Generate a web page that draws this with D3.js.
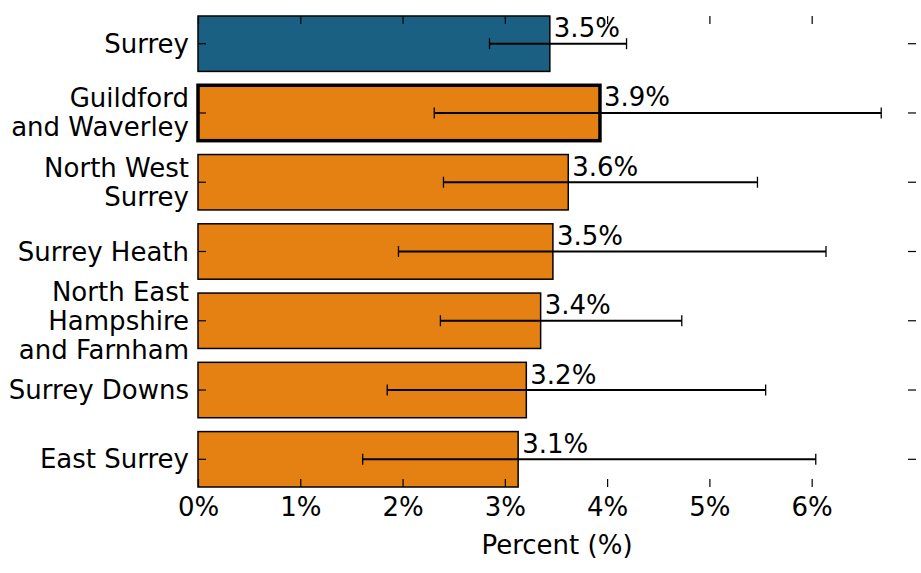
<!DOCTYPE html>
<html>
<head>
<meta charset="utf-8">
<script src="https://cdn.jsdelivr.net/npm/d3@7"></script>
<style>
  body { margin: 0; background: #fff; }
  text { font-family: "DejaVu Sans", sans-serif; }
</style>
</head>
<body>
<div id="chart"></div>
<script>
var width = 921;
var height = 573;
var margin = {top: 16, right: 5, bottom: 86, left: 198};

// data
var areas = ['Surrey', 'Guildford and Waverley', 'North West Surrey', 'Surrey Heath',
  'North East Hampshire and Farnham', 'Surrey Downs', 'East Surrey'];
var areaLines = [['Surrey'], ['Guildford', 'and Waverley'], ['North West', 'Surrey'], ['Surrey Heath'],
  ['North East', 'Hampshire', 'and Farnham'], ['Surrey Downs'], ['East Surrey']];
var values = [3.44, 3.93, 3.62, 3.47, 3.35, 3.21, 3.13];
var lower = [2.85, 2.31, 2.40, 1.96, 2.37, 1.85, 1.61];
var upper = [4.19, 6.68, 5.47, 6.14, 4.73, 5.55, 6.04];
var valueLabels = ['3.5%', '3.9%', '3.6%', '3.5%', '3.4%', '3.2%', '3.1%'];
var xTicks = [0, 1, 2, 3, 4, 5, 6];

var blue = '#1a6083';
var orange = '#e58113';
var fontSize = 26;

var innerW = width - margin.left - margin.right;
var innerH = height - margin.top - margin.bottom;

var svg = d3.select('#chart')
  .append('svg')
  .attr('width', width)
  .attr('height', height);

var g = svg.append('g')
  .attr('transform', 'translate(' + margin.left + ',' + margin.top + ')');

var x = d3.scaleLinear().domain([0, 7.02]).range([0, innerW]);
var y = d3.scaleBand().domain(areas).range([0, innerH]).paddingInner(0.2).paddingOuter(0);

// bars
g.selectAll('rect.bar')
  .data(areas)
  .enter().append('rect')
  .attr('class', 'bar')
  .attr('x', x(0))
  .attr('y', function(d) { return y(d); })
  .attr('width', function(d, i) { return x(values[i]) - x(0); })
  .attr('height', y.bandwidth())
  .attr('fill', function(d, i) { return i === 0 ? blue : orange; })
  .attr('stroke', '#000')
  .attr('stroke-width', function(d, i) { return i === 1 ? 3.5 : 1.5; });

// error bars
var eb = g.selectAll('g.err')
  .data(areas)
  .enter().append('g')
  .attr('class', 'err')
  .attr('transform', function(d) { return 'translate(0,' + (y(d) + y.bandwidth() / 2) + ')'; });

eb.append('line')
  .attr('x1', function(d, i) { return x(lower[i]); })
  .attr('x2', function(d, i) { return x(upper[i]); })
  .attr('stroke', '#000')
  .attr('stroke-width', 2);

eb.append('line')
  .attr('x1', function(d, i) { return x(lower[i]); })
  .attr('x2', function(d, i) { return x(lower[i]); })
  .attr('y1', -5.5).attr('y2', 5.5)
  .attr('stroke', '#000')
  .attr('stroke-width', 1.3);

eb.append('line')
  .attr('x1', function(d, i) { return x(upper[i]); })
  .attr('x2', function(d, i) { return x(upper[i]); })
  .attr('y1', -5.5).attr('y2', 5.5)
  .attr('stroke', '#000')
  .attr('stroke-width', 1.3);

// value labels
eb.append('text')
  .attr('x', function(d, i) { return x(values[i]) + 4; })
  .attr('y', -6.5)
  .attr('font-size', fontSize)
  .attr('fill', '#000')
  .text(function(d, i) { return valueLabels[i]; });

// axes: ticks pointing inward, no spines
var fmt = function(d) { return d + '%'; };

var xBottom = g.append('g')
  .attr('transform', 'translate(0,' + innerH + ')')
  .call(d3.axisBottom(x).tickValues(xTicks).tickFormat(fmt).tickSizeInner(-8).tickSizeOuter(0).tickPadding(11));

var xTop = g.append('g')
  .call(d3.axisTop(x).tickValues(xTicks).tickFormat('').tickSizeInner(-8).tickSizeOuter(0));

var yLeft = g.append('g')
  .call(d3.axisLeft(y).tickFormat('').tickSizeInner(-8).tickSizeOuter(0));

var yRight = g.append('g')
  .attr('transform', 'translate(' + innerW + ',0)')
  .call(d3.axisRight(y).tickFormat('').tickSizeInner(-8).tickSizeOuter(0));

[xBottom, xTop, yLeft, yRight].forEach(function(a) {
  a.select('.domain').remove();
  a.selectAll('.tick line').attr('stroke', '#000').attr('stroke-width', 1.2);
});

xBottom.selectAll('.tick text')
  .attr('font-size', fontSize)
  .attr('fill', '#000')
  .attr('font-family', '"DejaVu Sans", sans-serif');

// y labels, multi-line, centred on each bar
var lineH = 29;
g.selectAll('text.ylab')
  .data(areas)
  .enter().append('text')
  .attr('class', 'ylab')
  .attr('text-anchor', 'end')
  .attr('font-size', fontSize)
  .attr('fill', '#000')
  .each(function(d, i) {
    var lines = areaLines[i];
    var cy = y(d) + y.bandwidth() / 2;
    var first = cy - (lines.length - 1) * lineH / 2 + 9;
    var t = d3.select(this);
    lines.forEach(function(l, k) {
      t.append('tspan')
        .attr('x', -9)
        .attr('y', first + k * lineH)
        .text(l);
    });
  });

// x axis title
g.append('text')
  .attr('x', innerW / 2)
  .attr('y', innerH + 67)
  .attr('text-anchor', 'middle')
  .attr('font-size', fontSize)
  .attr('fill', '#000')
  .text('Percent (%)');
</script>
</body>
</html>
